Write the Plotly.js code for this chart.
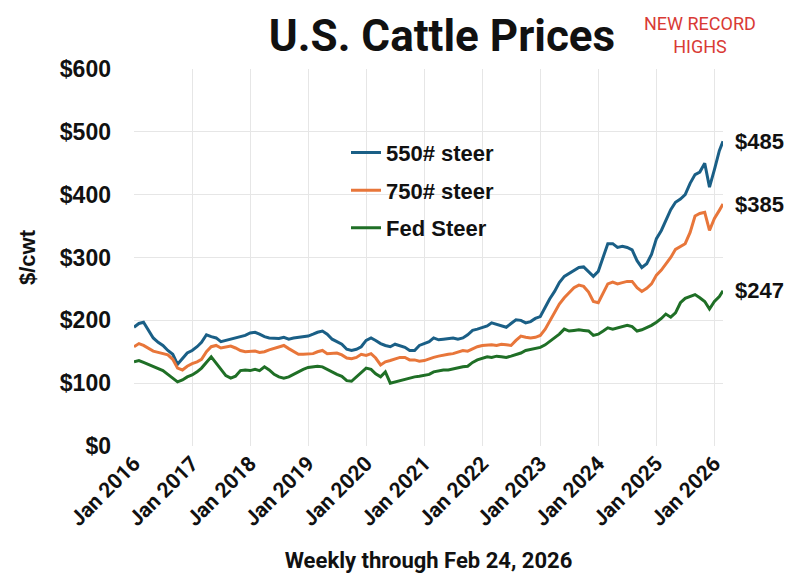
<!DOCTYPE html>
<html>
<head>
<meta charset="utf-8">
<script src="https://cdn.plot.ly/plotly-3.0.1.min.js"></script>
<style>
html,body{margin:0;padding:0;background:#fff;}
#chart{width:800px;height:581px;}
</style>
</head>
<body>
<div id="chart"></div>
<script>
// Monthly readings (1st of each month), Jan 2016 .. Feb 2026, plus final week Feb 24, 2026
const startYear = 2016;
const lastDate = "2026-02-24";

const steer550 = [
  189, 195, 197, 185, 172, 165, 160, 152, 146, 130, 140, 148,
  152, 158, 165, 177, 174, 172, 166, 168, 170, 172, 174, 176,
  180, 181, 178, 174, 172, 171, 171, 173, 170, 172, 173, 174,
  175, 178, 181, 183, 178, 170, 166, 162, 154, 152, 154, 158,
  168, 172, 168, 163, 160, 158, 162, 160, 157, 152, 152, 160,
  163, 166, 172, 169, 170, 171, 172, 170, 172, 177, 184, 186,
  188, 191, 196, 194, 191, 189, 195, 201, 200, 196, 198, 203,
  206, 221, 234, 246, 260, 270, 275, 279, 284, 285, 278, 270,
  278, 300, 322, 322, 316, 318, 316, 312, 295, 284, 290, 305,
  330, 343, 360, 376, 388, 393, 400, 418, 432, 436, 450, 412,
  440, 470, 485
];

const steer750 = [
  158, 163, 160, 155, 151, 149, 147, 145, 138, 124, 121, 127,
  131, 134, 138, 150, 158, 160, 156, 158, 159, 156, 152, 150,
  150, 151, 149, 150, 153, 155, 157, 160, 155, 150, 146, 146,
  146, 147, 150, 152, 147, 147, 148, 145, 140, 139, 141, 146,
  144, 147, 140, 129, 134, 136, 139, 141, 141, 137, 137, 135,
  136, 139, 141, 143, 145, 146, 147, 150, 152, 151, 155, 158,
  160, 161, 161, 160, 162, 161, 160, 168, 175, 173, 172, 173,
  176, 186, 198, 212, 226, 236, 244, 252, 256, 254, 245, 230,
  228, 244, 258, 261, 258, 260, 262, 262, 252, 246, 251, 258,
  272, 280, 289, 300, 313, 318, 322, 340, 366, 370, 372, 343,
  362, 375, 385
];

const fedSteer = [
  134, 136, 133, 130, 127, 124, 120, 114, 108, 102, 105, 110,
  113, 118, 124, 133, 142, 132, 122, 112, 108, 111, 120, 121,
  120, 122, 120, 126, 121, 114, 110, 108, 110, 114, 119, 122,
  125, 126, 127, 126, 122, 117, 114, 111, 104, 103, 110, 116,
  124, 122, 115, 110, 118, 100, 102, 104, 106, 108, 110, 111,
  112, 114, 118, 120, 121, 121, 123, 125, 126, 127, 133, 137,
  140, 142, 141, 143, 142, 141, 143, 145, 148, 152, 154, 156,
  157, 161, 166, 172, 178, 186, 183, 184, 185, 184, 183, 176,
  178, 183, 188, 186, 188, 191, 192, 190, 183, 185, 188, 192,
  197, 203, 210, 205, 212, 228, 235, 238, 241, 236, 230, 218,
  230, 238, 247
];

const seriesNames = ["550# steer", "750# steer", "Fed Steer"];
const seriesColors = ["#1a5f86", "#e8763a", "#1f6f26"];
const tickYears = [2016, 2017, 2018, 2019, 2020, 2021, 2022, 2023, 2024, 2025, 2026];

// Build the monthly date axis
const dates = [];
for (let i = 0; i < steer550.length - 1; i++) {
  const y = startYear + Math.floor(i / 12);
  const m = (i % 12) + 1;
  dates.push(y + "-" + String(m).padStart(2, "0") + "-01");
}
dates.push(lastDate);

const allSeries = [steer550, steer750, fedSteer];
const traces = allSeries.map((vals, k) => ({
  x: dates,
  y: vals,
  type: "scatter",
  mode: "lines",
  name: seriesNames[k],
  legendgroup: "g" + k,
  line: {color: seriesColors[k], width: 3}
}));

const boldFont = "Liberation Sans, Arial, sans-serif";
const narrowFont = "Roboto, Liberation Sans, sans-serif";

const annotations = allSeries.map((vals) => ({
  xref: "paper", yref: "y",
  x: 1, y: vals[vals.length - 1],
  xanchor: "left", yanchor: "middle",
  xshift: 10,
  text: "$" + vals[vals.length - 1],
  showarrow: false,
  font: {family: boldFont, size: 22, color: "#111", weight: "bold"}
}));
annotations.push({
  xref: "paper", yref: "paper",
  x: (700 - 134) / 589, y: (445.7 - 35) / 376.4,
  xanchor: "center", yanchor: "middle",
  text: "NEW RECORD<br>HIGHS",
  showarrow: false,
  font: {family: narrowFont, size: 18, color: "#d93a35"}
});

const layout = {
  width: 800, height: 581,
  paper_bgcolor: "#fff", plot_bgcolor: "#fff",
  margin: {l: 134, r: 77, t: 69, b: 135},
  title: {
    text: "U.S. Cattle Prices",
    xref: "container", yref: "container",
    x: 442 / 800, y: 1 - 36 / 581,
    xanchor: "center", yanchor: "middle",
    font: {family: narrowFont, size: 44, color: "#111", weight: "bold"}
  },
  xaxis: {
    type: "date",
    range: [dates[0], lastDate],
    tickvals: tickYears.map(y => y + "-01-01"),
    ticktext: tickYears.map(y => "Jan " + y),
    tickangle: -45,
    tickfont: {family: narrowFont, size: 21, color: "#111", weight: "bold"},
    showgrid: true, gridcolor: "#e6e6e6", gridwidth: 1,
    zeroline: false, showline: false, ticks: "",
    title: {
      text: "Weekly through Feb 24, 2026",
      font: {family: narrowFont, size: 22, color: "#111", weight: "bold"},
      standoff: 22
    }
  },
  yaxis: {
    range: [0, 600], dtick: 100, tickprefix: "$",
    tickfont: {family: boldFont, size: 23, color: "#111", weight: "bold"},
    showgrid: true, gridcolor: "#e6e6e6", gridwidth: 1,
    zeroline: false, showline: false, ticks: "",
    ticklabelstandoff: 22,
    title: {
      text: "$/cwt",
      font: {family: boldFont, size: 22, color: "#111", weight: "bold"},
      standoff: 18
    }
  },
  showlegend: true,
  legend: {
    x: (346 - 134) / 589, y: (445.7 - 132) / 376.4,
    xanchor: "left", yanchor: "top",
    bgcolor: "rgba(0,0,0,0)",
    font: {family: boldFont, size: 22, color: "#111", weight: "bold"},
    tracegroupgap: 6,
    itemwidth: 30
  },
  annotations: annotations
};

Plotly.newPlot("chart", traces, layout, {displayModeBar: false, staticPlot: true});
</script>
</body>
</html>
